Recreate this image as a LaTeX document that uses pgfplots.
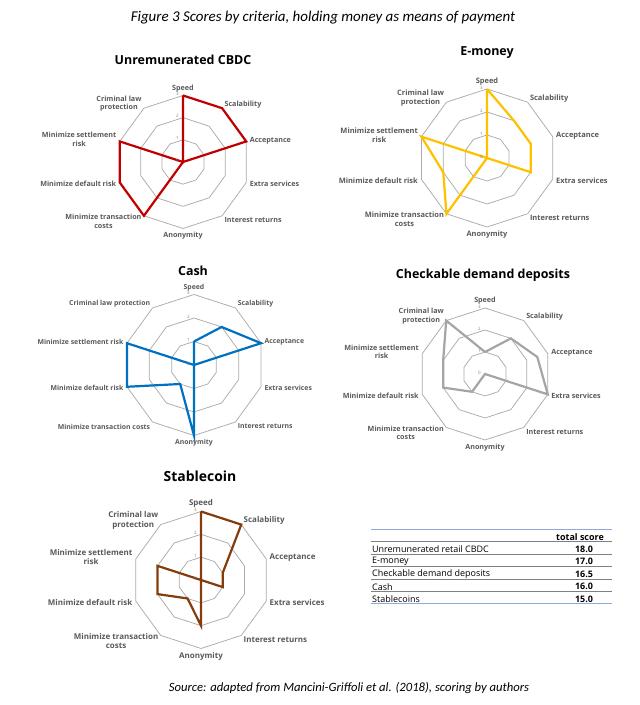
\documentclass[border=0pt]{standalone}
\usepackage{pgfplots}
\pgfplotsset{compat=1.18}
\usepackage{pgfplotstable}
\usepackage{fontspec}
\setmainfont{Open Sans}
\newfontfamily\capfont{Carlito}

\definecolor{lblgray}{HTML}{595959}
\definecolor{gridgray}{HTML}{ABABAB}
\definecolor{cbdcred}{HTML}{C00000}
\definecolor{emgold}{HTML}{FFC000}
\definecolor{cashblue}{HTML}{0070C0}
\definecolor{cddgray}{HTML}{A5A5A5}
\definecolor{stbrown}{HTML}{843C0C}
\definecolor{tblblue}{HTML}{8EA9DB}
\definecolor{sepgray}{HTML}{808080}

% scores per criterion, clockwise from Speed (last row closes the polygon)
\pgfplotstableread{
angle cbdc emoney cash cdd stable
90    3    3      1    1   3
54    3    2      2    2   3
18    3    2      3    2.5 1
-18   0    2      0    3   1
-54   0    0      0    0   0
-90   0    0      3    0   2
-126  3    3      1    1   1
-162  3    2      3    2   2
-198  3    3      3    2   2
-234  0    0      0    3   0
-270  3    3      1    1   3
}\scores

% decagon grid rings
\pgfplotstableread{
angle l1 l2 l3
90    1  2  3
54    1  2  3
18    1  2  3
-18   1  2  3
-54   1  2  3
-90   1  2  3
-126  1  2  3
-162  1  2  3
-198  1  2  3
-234  1  2  3
-270  1  2  3
}\grid

\pgfplotsset{
  radar/.style={scale only axis, hide axis, anchor=center,
    xmin=-3, xmax=3, ymin=-3, ymax=3, enlargelimits=false,
    clip=false, width=#1, height=#1},
  ring/.style={gridgray, line width=0.75bp, data cs=polar},
  score/.style={#1, line width=2.2bp, data cs=polar},
}

\newcommand{\radargrid}{%
  \addplot[ring] table[x=angle, y=l1]{\grid};
  \addplot[ring] table[x=angle, y=l2]{\grid};
  \addplot[ring] table[x=angle, y=l3]{\grid};
}

\newcommand{\labelsA}{90/south/0/Speed, 54/west/1.5/Scalability,
  18/west/0/Acceptance, -18/west/0/Extra services,
  -54/west/-2/Interest returns, -90/north/0/Anonymity,
  -126/east/-3/Minimize transaction\\costs, -162/east/0/Minimize default risk,
  162/east/1/Minimize settlement\\risk, 126/east/2/Criminal law\\protection}
\newcommand{\labelsB}{90/south/0/Speed, 54/west/1.5/Scalability,
  18/west/0/Acceptance, -18/west/0/Extra services,
  -54/west/-2/Interest returns, -90/north/0/Anonymity,
  -126/east/-2/Minimize transaction costs, -162/east/0/Minimize default risk,
  162/east/0/Minimize settlement risk, 126/east/1.5/Criminal law protection}

% #1 cx, #2 cy, #3 radius, #4 label list, #5 label font size, #6 baselineskip
\newcommand{\radarlabels}[6]{%
  \foreach \a/\anc/\ys/\t in #4 {
    \node[anchor=\anc, align=center, text=lblgray, inner sep=0.5pt,
      font=\bfseries\fontsize{#5}{#6}\selectfont]
      at ({#1+(#3+3)*cos(\a)},{#2+(#3+3)*sin(\a)+\ys}) {\t};
  }
  \foreach \k in {0,1,2,3} {
    \node[anchor=east, inner sep=0, text=gray, font=\fontsize{4.5}{5}\selectfont]
      at ({#1-4},{#2+\k*#3/3+1.5}) {\k};
  }
}

\tikzset{ctitle/.style={font=\bfseries\fontsize{#1}{#1}\selectfont, text=black},
  ctitle/.default=12.5}

\begin{document}
\begin{tikzpicture}[x=1bp, y=1bp]
\useasboundingbox (0,0) rectangle (640,705);

\node[font=\capfont\itshape\fontsize{15}{17}\selectfont] at (323,687)
  {Figure 3 Scores by criteria, holding money as means of payment};

% Unremunerated CBDC
\begin{axis}[radar=133bp, at={(183bp,543bp)}]
\radargrid
\addplot[score=cbdcred] table[x=angle, y=cbdc]{\scores};
\end{axis}
\radarlabels{183}{543}{66.5}{\labelsA}{7.2}{8.6}
\node[ctitle] at (183,645) {Unremunerated CBDC};

% E-money
\begin{axis}[radar=138bp, at={(487bp,547bp)}]
\radargrid
\addplot[score=emgold] table[x=angle, y=emoney]{\scores};
\end{axis}
\radarlabels{487}{547}{69}{\labelsA}{7.5}{9}
\node[ctitle] at (487,652) {E-money};

% Cash
\begin{axis}[radar=141bp, at={(194bp,340bp)}]
\radargrid
\addplot[score=cashblue] table[x=angle, y=cash]{\scores};
\end{axis}
\radarlabels{194}{340}{70.5}{\labelsB}{6.9}{8.3}
\node[ctitle] at (193,434) {Cash};

% Checkable demand deposits
\begin{axis}[radar=132bp, at={(485bp,331bp)}]
\radargrid
\addplot[score=cddgray] table[x=angle, y=cdd]{\scores};
\end{axis}
\radarlabels{485}{331}{66}{\labelsA}{7.2}{8.6}
\node[ctitle] at (483,430) {Checkable demand deposits};

% Stablecoin
\begin{axis}[radar=137bp, at={(201bp,125bp)}]
\radargrid
\addplot[score=stbrown] table[x=angle, y=stable]{\scores};
\end{axis}
\radarlabels{201}{125}{68.5}{\labelsA}{8}{9.6}
\node[ctitle=14] at (200,229) {Stablecoin};

% total score table
\begin{scope}[every node/.style={inner sep=0, font=\fontsize{9}{10}\selectfont}]
\draw[tblblue, line width=1bp] (371,175) -- (612,175);
\node[font=\bfseries\fontsize{9}{10}\selectfont] at (580,168.3) {total score};
\foreach \y in {163.3,151,138.3,126,114}
  \draw[sepgray, line width=0.8bp] (371,\y) -- (612,\y);
\draw[tblblue, line width=1bp] (371,101) -- (612,101);
\foreach \y/\name/\v in {156/Unremunerated retail CBDC/18.0, 143.3/E-money/17.0,
    131/Checkable demand deposits/16.5, 118.3/Cash/16.0, 106/Stablecoins/15.0} {
  \node[anchor=west] at (372,\y) {\name};
  \node[font=\bfseries\fontsize{9}{10}\selectfont] at (584,\y) {\v};
}
\end{scope}

\node[font=\capfont\itshape\fontsize{12.7}{15}\selectfont] at (349,17)
  {Source: adapted from Mancini-Griffoli et al. (2018), scoring by authors};
\end{tikzpicture}
\end{document}
